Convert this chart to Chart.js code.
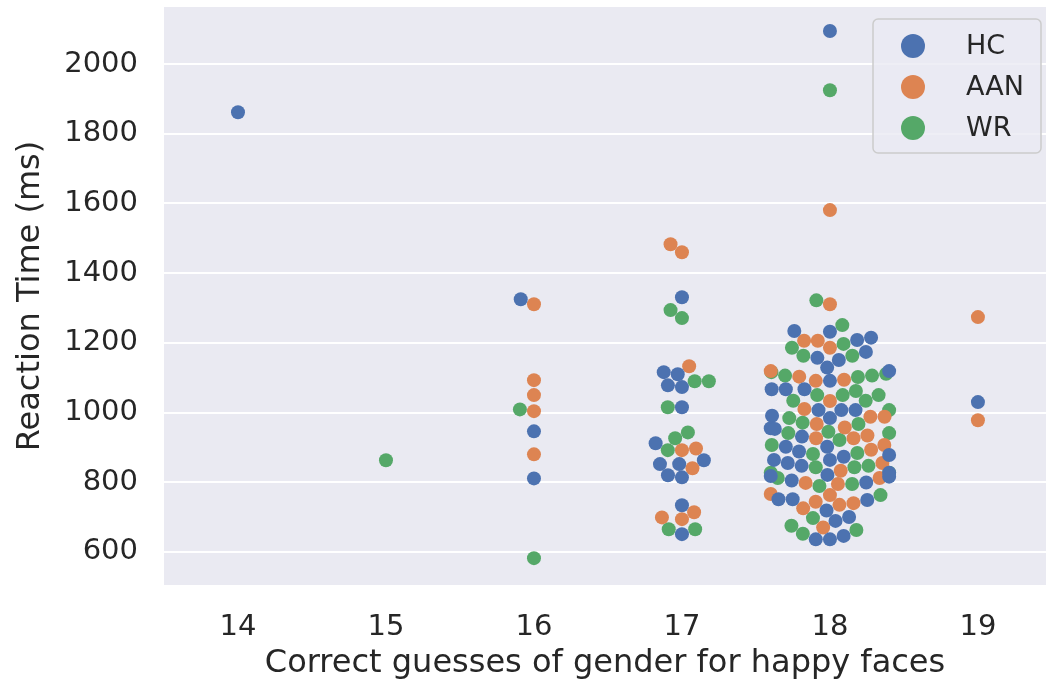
<!DOCTYPE html>
<html lang="en">
<head>
  <meta charset="UTF-8">
  <title>Reaction time swarm</title>
  <style>
    html, body { margin: 0; padding: 0; background: #ffffff; }
    #wrap { width: 1048px; height: 688px; }
  </style>
  <script src="https://cdn.jsdelivr.net/npm/chart.js"></script>
</head>
<body>
  <div id="wrap"><canvas id="swarm" width="1048" height="688"></canvas></div>
  <script>
    // categories on the x axis and the y tick values
    const categories = [14, 15, 16, 17, 18, 19];
    const yTicks = [600, 800, 1000, 1200, 1400, 1600, 1800, 2000];
    const groups = ['HC', 'AAN', 'WR'];
    const groupColors = ['#4c72b0', '#dd8452', '#55a868'];

    // reaction times (ms), one list per category 14..19
    const hcTimes = [
      [1862],
      [],
      [1325, 946, 811],
      [1331, 1116, 1110, 1078, 1073, 1015, 912, 863, 852, 852, 820, 814, 734, 651],
      [2095, 1234, 1232, 1215, 1208, 1174, 1157, 1151, 1129, 1119, 1091, 1067, 1067, 1067,
       1007, 1007, 1007, 991, 984, 955, 953, 931, 902, 902, 888, 878, 873, 864, 864, 855,
       847, 827, 821, 818, 816, 805, 799, 751, 751, 749, 719, 700, 689, 646, 636, 636],
      [1030]
    ];
    const aanTimes = [
      [],
      [],
      [1311, 1093, 1050, 1004, 880],
      [1483, 1460, 1133, 897, 892, 840, 714, 699, 694],
      [1581, 1311, 1206, 1206, 1186, 1119, 1103, 1094, 1091, 1033, 1010, 988, 988, 967, 957,
       934, 926, 926, 907, 893, 855, 833, 812, 798, 795, 766, 763, 744, 740, 735, 725, 670],
      [1274, 978]
    ];
    const wrTimes = [
      [],
      [863],
      [1009, 582],
      [1294, 1271, 1090, 1090, 1015, 943, 926, 892, 665, 665],
      [1925, 1322, 1251, 1197, 1186, 1163, 1163, 1116, 1111, 1106, 1106, 1102, 1062, 1050,
       1050, 1050, 1034, 1034, 1007, 984, 971, 967, 945, 941, 941, 921, 907, 884, 881, 847,
       843, 843, 827, 827, 812, 795, 789, 763, 697, 675, 663, 652],
      []
    ];
    const allTimes = [hcTimes, aanTimes, wrTimes];

    const FONT = '"DejaVu Sans", sans-serif';
    const TEXT = '#262626';

    // one dataset per group, x starts at the category and is spread out later
    const datasets = groups.map((g, gi) => {
      const data = [];
      categories.forEach((cat, ci) => {
        allTimes[gi][ci].forEach(v => data.push({ x: cat, y: v }));
      });
      return {
        label: g,
        data: data,
        backgroundColor: groupColors[gi],
        borderWidth: 0,
        pointRadius: 7,
        pointHoverRadius: 7
      };
    });

    const plotBg = {
      id: 'plotBg',
      beforeDraw(chart) {
        const a = chart.chartArea, ctx = chart.ctx;
        ctx.save();
        ctx.fillStyle = '#eaeaf2';
        ctx.fillRect(a.left, a.top, a.right - a.left, a.bottom - a.top);
        ctx.restore();
      }
    };

    // legend box in the upper right corner of the plot
    const boxLegend = {
      id: 'boxLegend',
      afterDatasetsDraw(chart) {
        const a = chart.chartArea, ctx = chart.ctx;
        const w = 168, h = 134;
        const x0 = a.right - 5 - w, y0 = a.top + 12;
        ctx.save();
        ctx.beginPath();
        ctx.roundRect(x0, y0, w, h, 5);
        ctx.fillStyle = 'rgba(234,234,242,0.8)';
        ctx.fill();
        ctx.strokeStyle = '#cccccc';
        ctx.lineWidth = 1.5;
        ctx.stroke();
        ctx.font = '27px ' + FONT;
        ctx.textBaseline = 'middle';
        chart.data.datasets.forEach((ds, i) => {
          const cy = y0 + 27 + i * 41;
          ctx.beginPath();
          ctx.arc(x0 + 40, cy, 12, 0, Math.PI * 2);
          ctx.fillStyle = ds.backgroundColor;
          ctx.fill();
          ctx.fillStyle = TEXT;
          ctx.fillText(ds.label, x0 + 93, cy + 1);
        });
        ctx.restore();
      }
    };

    const chart = new Chart(document.getElementById('swarm'), {
      type: 'scatter',
      data: { datasets: datasets },
      options: {
        responsive: false,
        animation: false,
        devicePixelRatio: 1,
        layout: { autoPadding: false, padding: { top: 7, right: 2, left: 0, bottom: 0 } },
        plugins: { legend: { display: false }, tooltip: { enabled: false } },
        scales: {
          x: {
            type: 'linear',
            min: 13.5,
            max: 19.46,
            afterBuildTicks: s => { s.ticks = categories.map(v => ({ value: v })); },
            afterFit: s => { s.height = 103; s.paddingLeft = 0; s.paddingRight = 0; },
            grid: { display: false },
            border: { display: false },
            ticks: { font: { family: FONT, size: 29 }, color: TEXT, padding: 17, callback: v => String(v) },
            title: {
              display: true,
              text: 'Correct guesses of gender for happy faces',
              font: { family: FONT, size: 32 },
              color: TEXT,
              padding: { top: 0, bottom: 5 }
            }
          },
          y: {
            min: 505,
            max: 2164,
            afterBuildTicks: s => { s.ticks = yTicks.map(v => ({ value: v })); },
            afterFit: s => { s.width = 164; s.paddingTop = 0; s.paddingBottom = 0; },
            grid: { color: '#ffffff', lineWidth: 2, drawTicks: false },
            border: { display: false },
            ticks: { font: { family: FONT, size: 29 }, color: TEXT, padding: 26, callback: v => String(v) },
            title: {
              display: true,
              text: 'Reaction Time (ms)',
              font: { family: FONT, size: 32 },
              color: TEXT,
              padding: { top: 11, bottom: 0 }
            }
          }
        }
      },
      plugins: [plotBg, boxLegend]
    });

    // beeswarm placement like seaborn: sort by value, nearest free slot to the centre
    function spreadSwarm() {
      const xs = chart.scales.x, ys = chart.scales.y;
      const unit = xs.getPixelForValue(15) - xs.getPixelForValue(14);
      const gap = 13.5;
      const half = 0.4 * unit;
      categories.forEach((cat, ci) => {
        const cx = xs.getPixelForValue(cat);
        const pts = [];
        datasets.forEach((ds, gi) => {
          ds.data.forEach((p, k) => {
            if (p.x === cat) pts.push({ gi, k, v: p.y, py: ys.getPixelForValue(p.y) });
          });
        });
        pts.sort((a, b) => b.py - a.py);
        const placed = [];
        pts.forEach(p => {
          const near = placed.filter(q => Math.abs(q.py - p.py) < gap);
          const cands = [cx];
          let leftFirst = true;
          near.forEach(q => {
            const dx = Math.sqrt(Math.max(gap * gap - (q.py - p.py) ** 2, 0)) * 1.05;
            if (leftFirst) cands.push(q.px - dx, q.px + dx);
            else cands.push(q.px + dx, q.px - dx);
            leftFirst = !leftFirst;
          });
          const order = cands.map((c, i) => ({ c, i }))
            .sort((a, b) => (Math.abs(a.c - cx) - Math.abs(b.c - cx)) || (a.i - b.i));
          let chosen = cx;
          for (const o of order) {
            const ok = near.every(q => (q.px - o.c) ** 2 + (q.py - p.py) ** 2 >= gap * gap - 1e-6);
            if (ok) { chosen = o.c; break; }
          }
          p.px = chosen;
          placed.push(p);
        });
        placed.forEach(p => {
          const px = Math.max(cx - half, Math.min(cx + half, p.px));
          datasets[p.gi].data[p.k].x = xs.getValueForPixel(px);
        });
      });
      chart.update('none');
    }
    spreadSwarm();
  </script>
</body>
</html>
